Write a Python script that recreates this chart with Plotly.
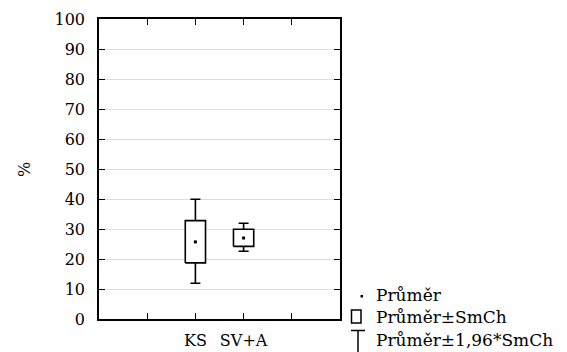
import plotly.graph_objects as go

# ---- data ----
categories = ["KS", "SV+A"]
cat_pos = [2, 3]
means = [25.7, 27.0]
box_lo = [18.7, 24.2]
box_hi = [32.8, 29.9]
whisk_lo = [11.9, 22.6]
whisk_hi = [39.9, 31.9]
y_ticks = [0, 10, 20, 30, 40, 50, 60, 70, 80, 90, 100]
x_tick_pos = [1, 2, 3, 4]
x_tick_text = ["", "KS", "SV+A", ""]
legend_labels = ["Průměr", "Průměr±SmCh", "Průměr±1,96*SmCh"]

W, H = 567, 352
L, R, T, B = 99, 340, 19, 319
FONT = "DejaVu Serif"
half_w = 0.21

fig = go.Figure()

# whiskers
fig.add_trace(go.Scatter(
    x=cat_pos, y=means, mode="markers", marker=dict(size=1, color="rgba(0,0,0,0)"),
    error_y=dict(type="data", symmetric=False,
                 array=[h - m for h, m in zip(whisk_hi, means)],
                 arrayminus=[m - l for m, l in zip(means, whisk_lo)],
                 color="black", thickness=1.6, width=5),
    showlegend=False, hoverinfo="skip"))

# boxes
for xp, lo, hi in zip(cat_pos, box_lo, box_hi):
    fig.add_trace(go.Scatter(
        x=[xp - half_w, xp + half_w, xp + half_w, xp - half_w, xp - half_w],
        y=[lo, lo, hi, hi, lo], mode="lines", fill="toself", fillcolor="white",
        line=dict(color="black", width=1.6), showlegend=False, hoverinfo="skip"))

# means
fig.add_trace(go.Scatter(
    x=cat_pos, y=means, mode="markers",
    marker=dict(symbol="square", size=3, color="black"),
    showlegend=False))

def px(p):
    return (p - L) / (R - L)

def py(p):
    return (B - p) / (B - T)

shapes = []
annotations = []
# legend: mean dot
shapes.append(dict(type="rect", xref="paper", yref="paper",
                   x0=px(360.5), x1=px(363), y0=py(297.5), y1=py(295),
                   fillcolor="black", line=dict(width=0)))
# legend: box
shapes.append(dict(type="rect", xref="paper", yref="paper",
                   x0=px(351.5), x1=px(361), y0=py(323), y1=py(310),
                   fillcolor="white", line=dict(color="black", width=1.5)))
# legend: whisker
shapes.append(dict(type="line", xref="paper", yref="paper",
                   x0=px(351), x1=px(365), y0=py(330.5), y1=py(330.5),
                   line=dict(color="black", width=1.5)))
shapes.append(dict(type="line", xref="paper", yref="paper",
                   x0=px(358), x1=px(358), y0=py(330.5), y1=py(352),
                   line=dict(color="black", width=1.5)))
for lab, yc in zip(legend_labels, [295, 317, 340]):
    annotations.append(dict(text=lab, xref="paper", yref="paper", x=px(374), y=py(yc),
                            xanchor="left", yanchor="middle", showarrow=False,
                            font=dict(family=FONT, size=17, color="black")))
# y title
annotations.append(dict(text="%", xref="paper", yref="paper", x=px(24), y=py(170),
                        xanchor="center", yanchor="middle", showarrow=False, textangle=-90,
                        font=dict(family=FONT, size=16, color="black")))

fig.update_layout(
    width=W, height=H, margin=dict(l=L, r=W - R, t=T, b=H - B, autoexpand=False),
    paper_bgcolor="white", plot_bgcolor="white",
    shapes=shapes, annotations=annotations,
    font=dict(family=FONT, size=16, color="black"),
)
fig.update_xaxes(range=[0, 5], tickvals=x_tick_pos, ticktext=x_tick_text, automargin=False,
                 showgrid=False, zeroline=False, showline=True, linecolor="black", linewidth=1.5,
                 mirror="ticks", ticks="inside", ticklen=6, tickcolor="black", tickwidth=1.3,
                 ticklabelstandoff=6, tickfont=dict(family=FONT, size=16, color="black"))
fig.update_yaxes(range=[0, 100], tickvals=y_ticks, automargin=False,
                 showgrid=True, gridcolor="#dcdcdc", gridwidth=1, zeroline=False,
                 showline=True, linecolor="black", linewidth=1.5,
                 mirror="ticks", ticks="inside", ticklen=6, tickcolor="black", tickwidth=1.3,
                 ticklabelstandoff=9, tickfont=dict(family=FONT, size=16, color="black"))

fig.write_html("out.html")
